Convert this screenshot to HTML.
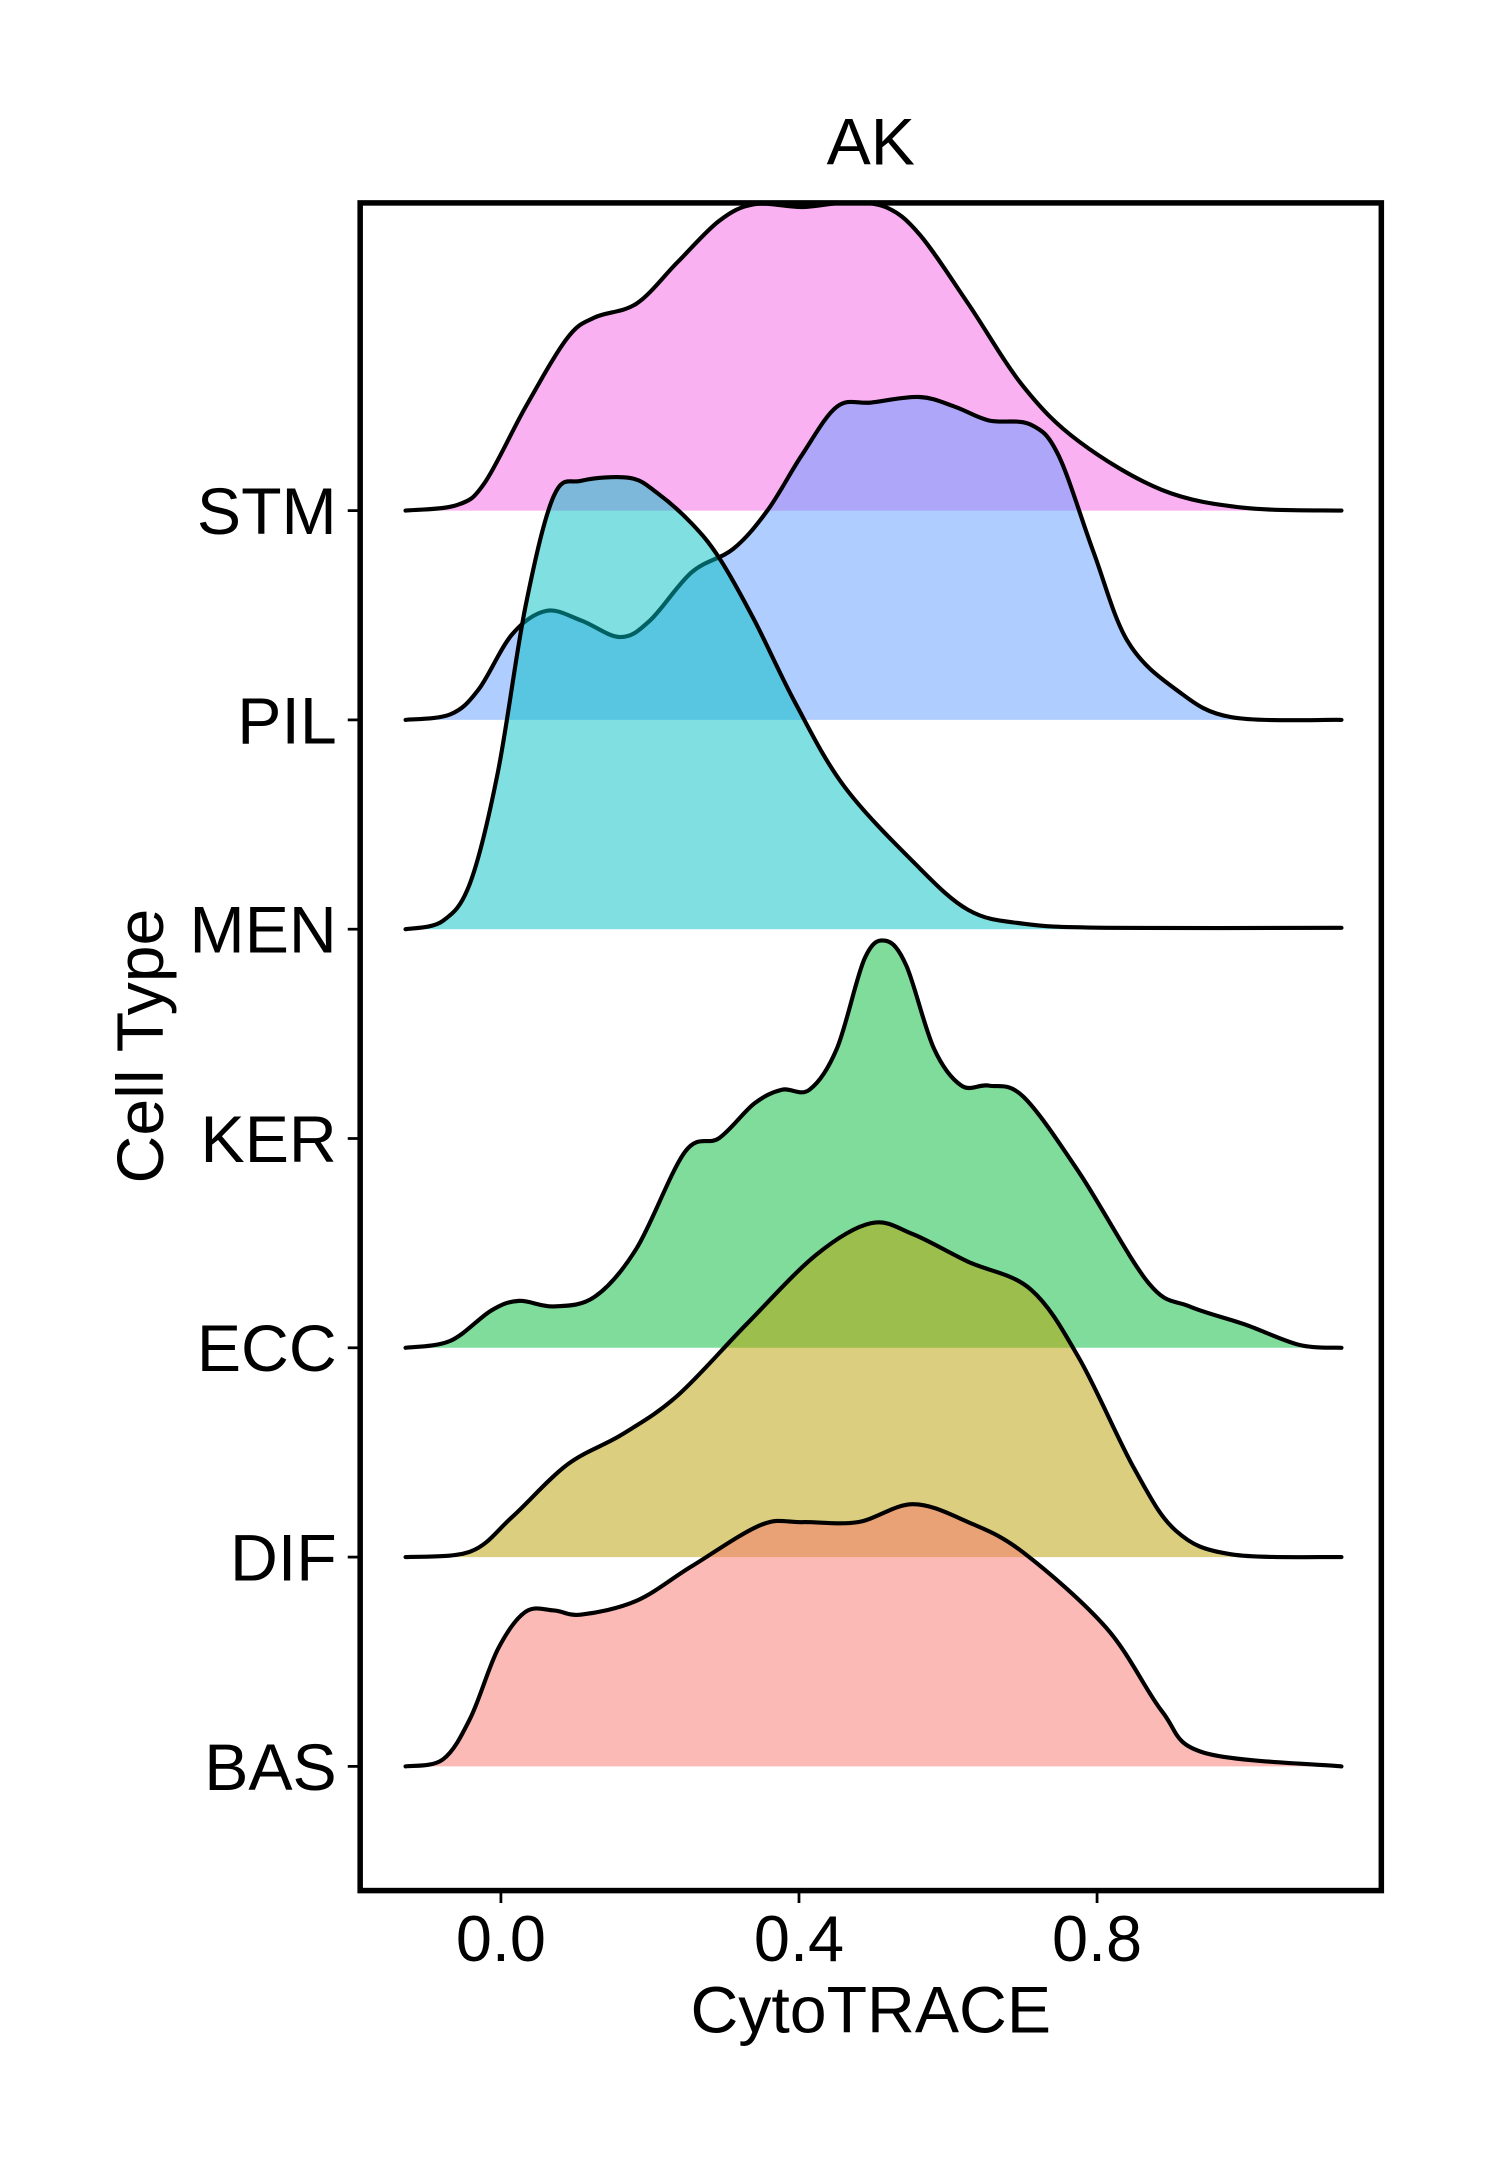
<!DOCTYPE html>
<html><head><meta charset="utf-8">
<style>
html,body{margin:0;padding:0;background:#fff;}
svg{display:block;}
text{font-family:"Liberation Sans",Arial,sans-serif;fill:#000;}
</style></head>
<body>
<svg id="chart" width="1500" height="2160" viewBox="0 0 1087 1565.2" xmlns="http://www.w3.org/2000/svg">
  <rect x="0" y="0" width="1087" height="1565.2" fill="#fff"/>
  <g id="ridges"></g>
  <rect x="261" y="147" width="740" height="1223" fill="none" stroke="#000" stroke-width="4"/>
  <g id="axes"></g>
  <text x="631" y="119" font-size="48" text-anchor="middle">AK</text>
  <text x="631" y="1473" font-size="48" text-anchor="middle">CytoTRACE</text>
  <text transform="translate(118,758) rotate(-90)" font-size="48" text-anchor="middle">Cell Type</text>
</svg>
<script>
const categories = ["BAS","DIF","ECC","KER","MEN","PIL","STM"];
const xTicks = [0.0, 0.4, 0.8];
const xTickLabels = ["0.0","0.4","0.8"];
const seriesColors = {BAS:"#F8766D",DIF:"#B79F00",ECC:"#00BA38",MEN:"#00BFC4",PIL:"#619CFF",STM:"#F564E3"};
const stmX = [-0.128,-0.059,-0.022,0.033,0.089,0.126,0.182,0.237,0.293,0.340,0.404,0.460,0.516,0.562,0.627,0.701,0.776,0.887,0.998,1.128];
const stmY = [0,0.04,0.20,0.75,1.25,1.40,1.50,1.80,2.10,2.22,2.20,2.23,2.20,2.00,1.50,0.90,0.50,0.15,0.02,0];
const pilX = [-0.128,-0.068,-0.030,0.015,0.061,0.108,0.160,0.200,0.256,0.312,0.358,0.404,0.451,0.497,0.562,0.609,0.655,0.711,0.748,0.795,0.841,0.906,0.980,1.128];
const pilY = [0,0.04,0.22,0.62,0.79,0.72,0.60,0.72,1.07,1.24,1.52,1.92,2.27,2.30,2.34,2.27,2.17,2.14,1.92,1.22,0.57,0.22,0.02,0];
const menX = [-0.128,-0.078,-0.041,-0.004,0.033,0.071,0.108,0.173,0.210,0.256,0.293,0.340,0.395,0.460,0.553,0.627,0.701,0.813,1.128];
const menY = [0,0.06,0.34,1.14,2.34,3.14,3.25,3.27,3.16,2.94,2.69,2.24,1.64,1.04,0.49,0.14,0.04,0.01,0.01];
const eccX = [-0.128,-0.068,-0.013,0.024,0.071,0.126,0.182,0.247,0.293,0.340,0.377,0.414,0.451,0.488,0.516,0.544,0.581,0.618,0.655,0.701,0.776,0.869,0.924,0.998,1.072,1.128];
const eccY = [0,0.05,0.27,0.34,0.30,0.37,0.72,1.42,1.52,1.77,1.87,1.87,2.17,2.82,2.95,2.77,2.17,1.90,1.90,1.82,1.27,0.47,0.30,0.17,0.02,0];
const difX = [-0.128,-0.041,0.015,0.089,0.163,0.237,0.330,0.423,0.497,0.553,0.627,0.711,0.776,0.850,0.906,0.980,1.128];
const difY = [0,0.04,0.29,0.67,0.89,1.17,1.69,2.19,2.42,2.34,2.14,1.94,1.44,0.64,0.19,0.02,0];
const basX = [-0.128,-0.078,-0.041,-0.004,0.033,0.071,0.108,0.182,0.256,0.349,0.404,0.479,0.553,0.627,0.701,0.813,0.887,0.943,1.128];
const basY = [0,0.05,0.35,0.85,1.12,1.13,1.10,1.20,1.45,1.75,1.77,1.77,1.90,1.77,1.55,1.00,0.40,0.10,0];

const series = [["STM",stmX,stmY],["PIL",pilX,pilY],["MEN",menX,menY],["ECC",eccX,eccY],["DIF",difX,difY],["BAS",basX,basY]];

const xScale = v => 363 + v*540;
const baseline = c => 1280 - categories.indexOf(c)*151.67;
const yUnit = 100;
const NS = "http://www.w3.org/2000/svg";

function smoothPath(pts){
  let d = "M"+pts[0][0]+","+pts[0][1];
  for(let i=0;i<pts.length-1;i++){
    const p0=pts[Math.max(0,i-1)],p1=pts[i],p2=pts[i+1],p3=pts[Math.min(pts.length-1,i+2)];
    const c1x=p1[0]+(p2[0]-p0[0])/6,c1y=p1[1]+(p2[1]-p0[1])/6;
    const c2x=p2[0]-(p3[0]-p1[0])/6,c2y=p2[1]-(p3[1]-p1[1])/6;
    d+=" C"+c1x+","+c1y+" "+c2x+","+c2y+" "+p2[0]+","+p2[1];
  }
  return d;
}
const ridges = document.getElementById("ridges");
series.forEach(([name,xs,ys])=>{
  const b = baseline(name);
  const pts = xs.map((x,i)=>[xScale(x), b - ys[i]*yUnit]);
  const line = smoothPath(pts);
  const fill = document.createElementNS(NS,"path");
  fill.setAttribute("d", line+" L"+pts[pts.length-1][0]+","+b+" L"+pts[0][0]+","+b+" Z");
  fill.setAttribute("fill", seriesColors[name]);
  fill.setAttribute("fill-opacity","0.5");
  
  
  ridges.appendChild(fill);
  const ln = document.createElementNS(NS,"path");
  ln.setAttribute("d", line);
  ln.setAttribute("fill","none");
  ln.setAttribute("stroke","#000");
  ln.setAttribute("stroke-width","3");
  ln.setAttribute("stroke-linecap","round");
  
  
  ridges.appendChild(ln);
});
const axes = document.getElementById("axes");
categories.forEach(c=>{
  const y = baseline(c);
  const t = document.createElementNS(NS,"line");
  t.setAttribute("x1",252);t.setAttribute("x2",261);t.setAttribute("y1",y);t.setAttribute("y2",y);
  t.setAttribute("stroke","#000");t.setAttribute("stroke-width","2");
  
  
  axes.appendChild(t);
  const l = document.createElementNS(NS,"text");
  l.setAttribute("x",244);l.setAttribute("y",y+17);
  l.setAttribute("font-size","48");l.setAttribute("text-anchor","end");
  l.textContent = c;
  
  
  axes.appendChild(l);
});
xTicks.forEach((v,i)=>{
  const x = xScale(v);
  const t = document.createElementNS(NS,"line");
  t.setAttribute("x1",x);t.setAttribute("x2",x);t.setAttribute("y1",1370);t.setAttribute("y2",1379);
  t.setAttribute("stroke","#000");t.setAttribute("stroke-width","2");
  
  
  axes.appendChild(t);
  const l = document.createElementNS(NS,"text");
  l.setAttribute("x",x);l.setAttribute("y",1421);
  l.setAttribute("font-size","47");l.setAttribute("text-anchor","middle");
  l.textContent = xTickLabels[i];
  
  
  axes.appendChild(l);
});
</script>
</body></html>
